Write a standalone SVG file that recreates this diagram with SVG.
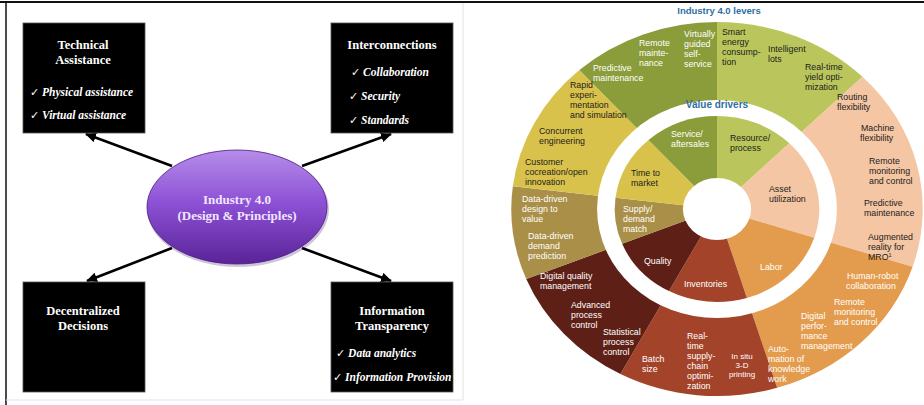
<svg xmlns="http://www.w3.org/2000/svg" width="924" height="405" viewBox="0 0 924 405">
<style>
.bt{font-family:"Liberation Serif","Times New Roman",serif;font-weight:bold;font-size:12.5px;fill:#ffffff;text-anchor:middle}
.it{font-family:"Liberation Serif","Times New Roman",serif;font-weight:bold;font-style:italic;font-size:11.5px;fill:#ffffff}
.ck{font-family:"DejaVu Sans",sans-serif;font-style:normal;font-weight:normal;font-size:11px}
.box{fill:#000000;stroke:#555555;stroke-width:0.8}
.arr{stroke:#000000;stroke-width:2.6;fill:none;marker-end:url(#ah)}
.lb{font-family:"Liberation Sans",Arial,sans-serif;font-size:8.8px}
.w{fill:#ffffff}
.k{fill:#1c1c1c}
.ttl{font-family:"Liberation Sans",Arial,sans-serif;font-weight:bold;fill:#2f6f9f;text-anchor:middle}
</style>
<defs>
<marker id="ah" markerUnits="userSpaceOnUse" markerWidth="12" markerHeight="10" refX="10" refY="5" orient="auto">
<path d="M0,0 L11,5 L0,10 Z" fill="#000000"/>
</marker>
<linearGradient id="pg" x1="0" y1="0" x2="0" y2="1">
<stop offset="0" stop-color="#b68de9"/>
<stop offset="0.45" stop-color="#8e52d6"/>
<stop offset="1" stop-color="#5a2398"/>
</linearGradient>
</defs>
<rect x="0" y="0" width="924" height="405" fill="#ffffff"/>
<line x1="0" y1="2" x2="924" y2="2" stroke="#111111" stroke-width="2"/>
<line x1="6" y1="2" x2="6" y2="405" stroke="#111111" stroke-width="1.5"/>
<line x1="463" y1="3" x2="463" y2="400" stroke="#e2e2e2" stroke-width="1"/>
<line x1="6" y1="400" x2="463" y2="400" stroke="#e2e2e2" stroke-width="1"/>

<g id="connectors">
<line class="arr" x1="172" y1="166" x2="86" y2="134"/>
<line class="arr" x1="302" y1="166" x2="391" y2="134"/>
<line class="arr" x1="172" y1="248" x2="87" y2="281"/>
<line class="arr" x1="302" y1="248" x2="391" y2="281"/>
</g>

<g id="center">
<ellipse cx="238" cy="209" rx="91" ry="58" fill="#3a1a5a" opacity="0.25"/>
<ellipse cx="237" cy="207" rx="90" ry="57" fill="url(#pg)" stroke="#4b1b82" stroke-width="0.8"/>
<text class="bt" x="237" y="204" style="fill:#f1e6ff;font-size:13px">Industry 4.0</text>
<text class="bt" x="237" y="220" style="fill:#f1e6ff;font-size:13px">(Design &amp; Principles)</text>
</g>

<g id="technical-assistance">
<rect class="box" x="23" y="23" width="122" height="110"/>
<text class="bt" x="83" y="49">Technical</text>
<text class="bt" x="83" y="64">Assistance</text>
<text class="it" x="30" y="96"><tspan class="ck">✓</tspan> Physical assistance</text>
<text class="it" x="30" y="119"><tspan class="ck">✓</tspan> Virtual assistance</text>
</g>

<g id="interconnections">
<rect class="box" x="331" y="23" width="122" height="110"/>
<text class="bt" x="392" y="49">Interconnections</text>
<text class="it" x="351" y="76"><tspan class="ck">✓</tspan> Collaboration</text>
<text class="it" x="349" y="100"><tspan class="ck">✓</tspan> Security</text>
<text class="it" x="349" y="124"><tspan class="ck">✓</tspan> Standards</text>
</g>

<g id="decentralized-decisions">
<rect class="box" x="23" y="282" width="122" height="110"/>
<text class="bt" x="83" y="315">Decentralized</text>
<text class="bt" x="83" y="330">Decisions</text>
</g>

<g id="information-transparency">
<rect class="box" x="331" y="282" width="122" height="110"/>
<text class="bt" x="392" y="315">Information</text>
<text class="bt" x="392" y="330">Transparency</text>
<text class="it" x="336" y="357"><tspan class="ck">✓</tspan> Data analytics</text>
<text class="it" x="333" y="381"><tspan class="ck">✓</tspan> Information Provision</text>
</g>

<g id="wheel">
<g transform="translate(717,209) scale(1.1,1)">
<path d="M0,0 L0,-187 A187,187 0 0 1 132.23,-132.23 Z" fill="#bac65c"/>
<path d="M0,0 L132.23,-132.23 A187,187 0 0 1 177.86,57.78 Z" fill="#f4c6a3"/>
<path d="M0,0 L177.86,57.78 A187,187 0 0 1 54.68,178.83 Z" fill="#e39c4d"/>
<path d="M0,0 L54.68,178.83 A187,187 0 0 1 -87.8,165.1 Z" fill="#a3432a"/>
<path d="M0,0 L-87.8,165.1 A187,187 0 0 1 -173.39,70.05 Z" fill="#5e1f16"/>
<path d="M0,0 L-173.39,70.05 A187,187 0 0 1 -185.6,-22.8 Z" fill="#a98f48"/>
<path d="M0,0 L-185.6,-22.8 A187,187 0 0 1 -125.12,-138.96 Z" fill="#d9c24b"/>
<path d="M0,0 L-125.12,-138.96 A187,187 0 0 1 0,-187 Z" fill="#8b9c3a"/>
<circle cx="0" cy="0" r="109" fill="#ffffff"/>
<path d="M0,0 L0,-93 A93,93 0 0 1 65.76,-65.76 Z" fill="#bac65c"/>
<path d="M0,0 L65.76,-65.76 A93,93 0 0 1 88.45,28.74 Z" fill="#f4c6a3"/>
<path d="M0,0 L88.45,28.74 A93,93 0 0 1 27.19,88.94 Z" fill="#e39c4d"/>
<path d="M0,0 L27.19,88.94 A93,93 0 0 1 -43.66,82.11 Z" fill="#a3432a"/>
<path d="M0,0 L-43.66,82.11 A93,93 0 0 1 -86.23,34.84 Z" fill="#5e1f16"/>
<path d="M0,0 L-86.23,34.84 A93,93 0 0 1 -92.3,-11.34 Z" fill="#a98f48"/>
<path d="M0,0 L-92.3,-11.34 A93,93 0 0 1 -62.23,-69.11 Z" fill="#d9c24b"/>
<path d="M0,0 L-62.23,-69.11 A93,93 0 0 1 0,-93 Z" fill="#8b9c3a"/>
<circle cx="0" cy="0" r="31" fill="#ffffff"/>
</g>
<text class="ttl" x="719" y="14" font-size="9.5">Industry 4.0 levers</text>
<text class="ttl" x="717" y="108" font-size="10">Value drivers</text>

<g class="lb">
<text class="k" x="722" y="35">Smart</text>
<text class="k" x="722" y="45">energy</text>
<text class="k" x="722" y="55">consump-</text>
<text class="k" x="722" y="65">tion</text>
<text class="k" x="768" y="52">Intelligent</text>
<text class="k" x="768" y="62">lots</text>
<text class="k" x="805" y="70">Real-time</text>
<text class="k" x="805" y="80">yield opti-</text>
<text class="k" x="805" y="90">mization</text>
<text class="k" x="837" y="100">Routing</text>
<text class="k" x="837" y="110">flexibility</text>
<text class="k" x="861" y="131">Machine</text>
<text class="k" x="860" y="141">flexibility</text>
<text class="k" x="869" y="164">Remote</text>
<text class="k" x="869" y="174">monitoring</text>
<text class="k" x="869" y="184">and control</text>
<text class="k" x="864" y="206">Predictive</text>
<text class="k" x="864" y="216">maintenance</text>
<text class="k" x="868" y="240">Augmented</text>
<text class="k" x="868" y="250">reality for</text>
<text class="k" x="868" y="260">MRO<tspan font-size="5.5" dy="-3.5">1</tspan></text>
<text class="w" x="847" y="279">Human-robot</text>
<text class="w" x="846" y="289">collaboration</text>
<text class="w" x="834" y="305">Remote</text>
<text class="w" x="834" y="315">monitoring</text>
<text class="w" x="834" y="325">and control</text>
<text class="w" x="801" y="319">Digital</text>
<text class="w" x="801" y="329">perfor-</text>
<text class="w" x="801" y="339">mance</text>
<text class="w" x="801" y="349">management</text>
<text class="w" x="768" y="352">Auto-</text>
<text class="w" x="768" y="362">mation of</text>
<text class="w" x="768" y="372">knowledge</text>
<text class="w" x="768" y="382">work</text>
<text class="w" x="742" y="359" text-anchor="middle" font-size="8">In situ</text>
<text class="w" x="742" y="368" text-anchor="middle" font-size="8">3-D</text>
<text class="w" x="742" y="377" text-anchor="middle" font-size="8">printing</text>
<text class="w" x="687" y="339">Real-</text>
<text class="w" x="687" y="349">time</text>
<text class="w" x="687" y="359">supply-</text>
<text class="w" x="687" y="369">chain</text>
<text class="w" x="687" y="379">optimi-</text>
<text class="w" x="687" y="389">zation</text>
<text class="w" x="642" y="362">Batch</text>
<text class="w" x="642" y="372">size</text>
<text class="w" x="603" y="335">Statistical</text>
<text class="w" x="603" y="345">process</text>
<text class="w" x="603" y="355">control</text>
<text class="w" x="571" y="308">Advanced</text>
<text class="w" x="571" y="318">process</text>
<text class="w" x="571" y="328">control</text>
<text class="w" x="540" y="279">Digital quality</text>
<text class="w" x="540" y="289">management</text>
<text class="w" x="528" y="239">Data-driven</text>
<text class="w" x="528" y="249">demand</text>
<text class="w" x="528" y="259">prediction</text>
<text class="w" x="522" y="202">Data-driven</text>
<text class="w" x="522" y="212">design to</text>
<text class="w" x="522" y="222">value</text>
<text class="k" x="525" y="165">Customer</text>
<text class="k" x="525" y="175">cocreation/open</text>
<text class="k" x="525" y="185">innovation</text>
<text class="k" x="539" y="134">Concurrent</text>
<text class="k" x="539" y="144">engineering</text>
<text class="k" x="570" y="88">Rapid</text>
<text class="k" x="570" y="98">experi-</text>
<text class="k" x="570" y="108">mentation</text>
<text class="k" x="570" y="118">and simulation</text>
<text class="w" x="593" y="71">Predictive</text>
<text class="w" x="593" y="81">maintenance</text>
<text class="w" x="639" y="46">Remote</text>
<text class="w" x="639" y="56">mainte-</text>
<text class="w" x="639" y="66">nance</text>
<text class="w" x="684" y="37">Virtually</text>
<text class="w" x="684" y="47">guided</text>
<text class="w" x="684" y="57">self-</text>
<text class="w" x="684" y="67">service</text>
<text class="w" x="671" y="137">Service/</text>
<text class="w" x="671" y="147">aftersales</text>
<text class="k" x="730" y="141">Resource/</text>
<text class="k" x="730" y="151">process</text>
<text class="k" x="769" y="192">Asset</text>
<text class="k" x="769" y="202">utilization</text>
<text class="w" x="760" y="270">Labor</text>
<text class="w" x="684" y="287">Inventories</text>
<text class="w" x="644" y="264">Quality</text>
<text class="w" x="623" y="212">Supply/</text>
<text class="w" x="623" y="222">demand</text>
<text class="w" x="623" y="232">match</text>
<text class="k" x="631" y="176">Time to</text>
<text class="k" x="631" y="186">market</text>
</g>
</g>
</svg>
